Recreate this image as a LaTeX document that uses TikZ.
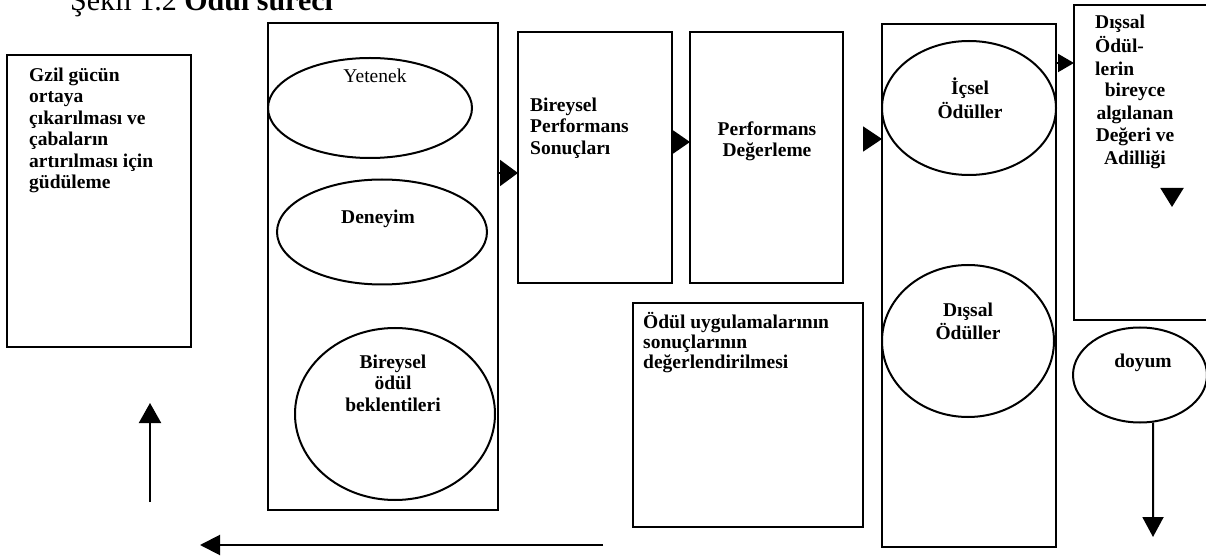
\documentclass[tikz,border=0pt]{standalone}
\usepackage{fontspec}
\setmainfont{Liberation Serif}
\usetikzlibrary{arrows.meta,shapes.geometric}
\begin{document}
\begin{tikzpicture}[x=1bp,y=-1bp,
  box/.style={draw, line width=2bp, inner sep=0pt, outer sep=0pt, anchor=north west},
  oval/.style={draw, ellipse, line width=2bp, inner sep=0pt, outer sep=0pt},
  txt/.style={font=\fontsize{19.5bp}{21.5bp}\selectfont\bfseries, inner sep=0pt, align=left, anchor=north west},
  ctxt/.style={font=\fontsize{19.5bp}{21.5bp}\selectfont\bfseries, inner sep=0pt, align=center, anchor=north},
  rtxt/.style={font=\fontsize{19.5bp}{21.5bp}\selectfont, inner sep=0pt, align=center, anchor=north},
  arr/.style={line width=2bp, -{Triangle[length=20bp,width=21bp]}},
  head/.style={line width=2bp},
]
\useasboundingbox (0,0) rectangle (1206,556);

% title (cut off at the top)
\node[font=\fontsize{30bp}{34bp}\selectfont, inner sep=0pt, anchor=base west] (title) at (70,11) {Şekil 1.2 \textbf{Ödül süreci}};

% boxes
\node[box, minimum width=184bp, minimum height=292bp] (gz) at (7,55) {};
\node[box, minimum width=230bp, minimum height=487bp] (col2) at (268,23) {};
\node[box, minimum width=154bp, minimum height=251bp] (bp) at (518,32) {};
\node[box, minimum width=153bp, minimum height=251bp] (pd) at (690,32) {};
\node[box, minimum width=174bp, minimum height=523bp] (col5) at (882,24) {};
\node[box, minimum width=200bp, minimum height=315bp] (dx) at (1074,5) {};
\node[box, minimum width=230bp, minimum height=224bp] (ou) at (633,303) {};

% ellipses
\node[oval, minimum width=204bp, minimum height=100bp] (yet) at (370,108) {};
\node[oval, minimum width=210bp, minimum height=105bp] (den) at (382,232) {};
\node[oval, minimum width=200bp, minimum height=172bp] (bob) at (395,414) {};
\node[oval, minimum width=174bp, minimum height=134bp] (ic) at (969,108) {};
\node[oval, minimum width=172bp, minimum height=152bp] (dis) at (968,341) {};
\node[oval, minimum width=134bp, minimum height=95bp] (doy) at (1140,375) {};

% texts
\node[txt] (gzt) at (29,66) {\strut Gzil gücün\\ortaya\\çıkarılması ve\\çabaların\\artırılması için\\güdüleme};
\node[rtxt] (yett) at (375,67) {\strut Yetenek};
\node[ctxt] (dent) at (378,208) {\strut Deneyim};
\node[ctxt] (bobt) at (393,353) {\strut Bireysel\\ödül\\beklentileri};
\node[txt] (bpt) at (530,96) {\strut Bireysel\\Performans\\Sonuçları};
\node[ctxt] (pdt) at (767,120) {\strut Performans\\Değerleme};
\node[ctxt] (ict) at (970,78) {\strut İçsel\\Ödüller};
\node[ctxt] (dist) at (968,301) {\strut Dışsal\\Ödüller};
\node[txt, font=\fontsize{19.5bp}{22.5bp}\selectfont\bfseries] (dxt1) at (1095,13) {\strut Dışsal\\Ödül-\\lerin};
\node[ctxt, font=\fontsize{19.5bp}{22.5bp}\selectfont\bfseries] (dxt2) at (1135,81) {\strut bireyce\\algılanan\\Değeri ve\\Adilliği};
\node[ctxt] (doyt) at (1143,352) {\strut doyum};
\node[txt, font=\fontsize{19.5bp}{20bp}\selectfont\bfseries] (out) at (643,312) {\strut Ödül uygulamalarının\\sonuçlarının\\değerlendirilmesi};

% arrowheads between boxes
\draw[head, -{Triangle[length=18bp,width=26bp]}] (col2.east |- 0,173) -- (bp.west |- 0,173);
\draw[head, -{Triangle[length=17bp,width=23bp]}] (bp.east |- 0,142) -- (pd.west |- 0,142);
\coordinate (a3s) at (863,139);
\draw[head, -{Triangle[length=19bp,width=25bp]}] (a3s) -- (col5.west |- a3s);
\draw[head, -{Triangle[length=16bp,width=18bp]}] (col5.east |- 0,63) -- (dx.west |- 0,63);
\coordinate (a5s) at (1172,188);
\coordinate (a5e) at (1172,207);
\draw[head, -{Triangle[length=19bp,width=23bp]}] (a5s) -- (a5e);

% long arrows
\coordinate (dend) at (1153,537);
\draw[arr] ([xshift=13bp]doy.south) -- (dend);
\coordinate (b1) at (603,545);
\coordinate (b2) at (200,545);
\draw[arr, -{Triangle[length=20bp,width=20bp]}] (b1) -- (b2);
\coordinate (u1) at (150,502);
\coordinate (u2) at (150,403);
\draw[arr, -{Triangle[length=20bp,width=22bp]}] (u1) -- (u2);
\end{tikzpicture}
\end{document}
